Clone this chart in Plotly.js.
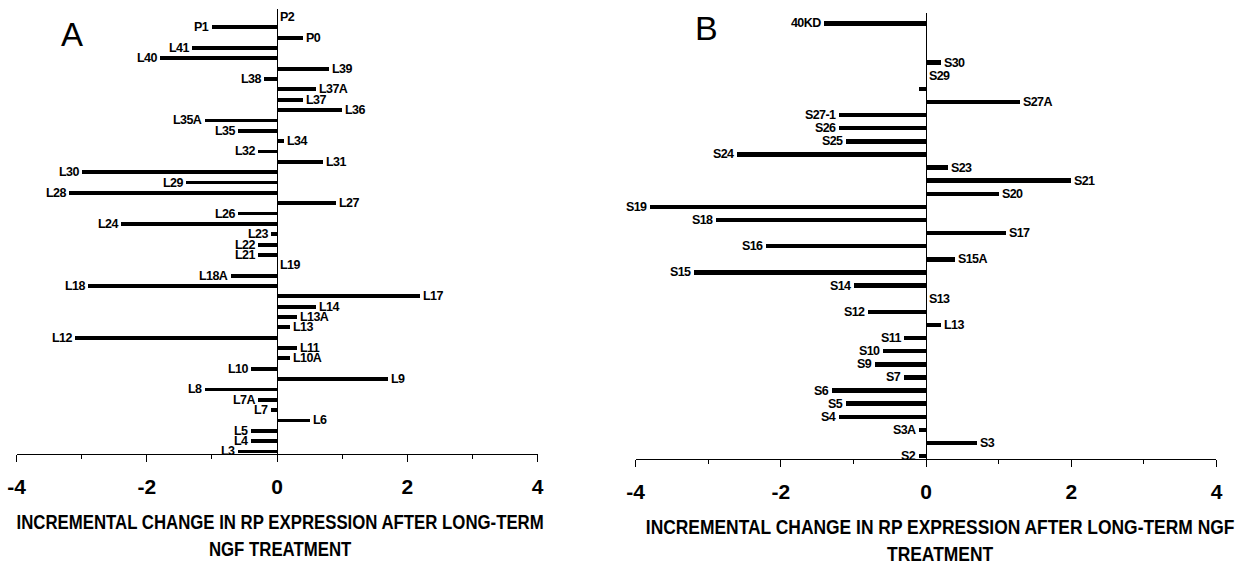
<!DOCTYPE html>
<html>
<head>
<meta charset="utf-8">
<script src="https://cdn.plot.ly/plotly-3.0.1.min.js"></script>
<style>
  html, body { margin: 0; padding: 0; background: #fff; }
  #chart { width: 1241px; height: 565px; }
  text.annotation-text { letter-spacing: -0.6px; }
</style>
</head>
<body>
<div id="chart"></div>
<script>
// Panel A: ribosomal proteins of the large subunit (top to bottom)
const catsA = ["P2","P1","P0","L41","L40","L39","L38","L37A","L37","L36","L35A","L35","L34","L32","L31","L30","L29","L28","L27","L26","L24","L23","L22","L21","L19","L18A","L18","L17","L14","L13A","L13","L12","L11","L10A","L10","L9","L8","L7A","L7","L6","L5","L4","L3"];
const valsA = [0,-1.0,0.4,-1.3,-1.8,0.8,-0.2,0.6,0.4,1.0,-1.1,-0.6,0.1,-0.3,0.7,-3.0,-1.4,-3.2,0.9,-0.6,-2.4,-0.1,-0.3,-0.3,0,-0.7,-2.9,2.2,0.6,0.3,0.2,-3.1,0.3,0.2,-0.4,1.7,-1.1,-0.3,-0.1,0.5,-0.4,-0.4,-0.6];

// Panel B: small subunit (top to bottom); "" = row without a label
const catsB = ["40KD","","","S30","S29","","S27A","S27-1","S26","S25","S24","S23","S21","S20","S19","S18","S17","S16","S15A","S15","S14","S13","S12","L13","S11","S10","S9","S7","S6","S5","S4","S3A","S3","S2"];
const valsB = [-1.4,null,null,0.2,0,-0.1,1.3,-1.2,-1.2,-1.1,-2.6,0.3,2.0,1.0,-3.8,-2.9,1.1,-2.2,0.4,-3.2,-1.0,0,-0.8,0.2,-0.3,-0.6,-0.7,-0.3,-1.3,-1.1,-1.2,-0.1,0.7,-0.1];

const xTicks = [-4,-2,0,2,4];
const titleA = "INCREMENTAL CHANGE IN RP EXPRESSION AFTER LONG-TERM<br>NGF TREATMENT";
const titleB = "INCREMENTAL CHANGE IN RP EXPRESSION AFTER LONG-TERM NGF<br>TREATMENT";
const panelA = "A", panelB = "B";

const FAM = "'Liberation Sans', Arial, sans-serif";
const labelFont = {family: FAM, size: 12.5, color: "#000", weight: 700};

const idx = arr => arr.map((_, i) => i);

const traces = [
  {type: "bar", orientation: "h", x: valsA, y: idx(catsA), xaxis: "x", yaxis: "y",
   width: 0.37, marker: {color: "#000", line: {width: 0}}, hoverinfo: "x+text", text: catsA, textposition: "none"},
  {type: "bar", orientation: "h", x: valsB, y: idx(catsB), xaxis: "x2", yaxis: "y2",
   width: 0.34, marker: {color: "#000", line: {width: 0}}, hoverinfo: "x+text", text: catsB, textposition: "none"}
];

function labelAnns(cats, vals, xref, yref) {
  const out = [];
  cats.forEach((c, i) => {
    if (!c) return;
    const v = vals[i] || 0;
    const neg = v < 0;
    out.push({x: v, y: i, xref: xref, yref: yref, text: c, showarrow: false,
      xanchor: neg ? "right" : "left", yanchor: "middle", xshift: neg ? -1 : 1,
      font: labelFont});
  });
  return out;
}

function xAxis(domain, anchor, title) {
  return {
    domain: domain, anchor: anchor, range: [-4, 4], tickvals: xTicks, ticktext: xTicks.map(String),
    showgrid: false, zeroline: true, zerolinecolor: "#000", zerolinewidth: 1,
    showline: true, linecolor: "#000", linewidth: 1,
    ticks: "outside", ticklen: 7, tickwidth: 1, tickcolor: "#000",
    minor: {dtick: 1, ticks: "outside", ticklen: 4, tickwidth: 1, tickcolor: "#000", showgrid: false},
    tickfont: {family: FAM, size: 21, color: "#000", weight: 700},
    ticklabelstandoff: 6,
    title: {text: title, font: {family: FAM, size: 21, color: "#000", weight: 700}, standoff: 17},
    fixedrange: true
  };
}
function yAxis(domain, anchor, n, top, bottomPad) {
  return {domain: domain, anchor: anchor, range: [n - 1 + bottomPad, top], visible: false,
    showgrid: false, zeroline: false, fixedrange: true};
}

const layout = {
  width: 1241, height: 565,
  margin: {l: 0, r: 0, t: 0, b: 0},
  paper_bgcolor: "#fff", plot_bgcolor: "rgba(0,0,0,0)",
  showlegend: false, bargap: 0,
  xaxis: xAxis([0.01330, 0.43328], "y", titleA),
  yaxis: yAxis([0.19558, 0.98319], "x", catsA.length, -0.725, 0.29),
  xaxis2: xAxis([0.51225, 0.98025], "y2", titleB),
  yaxis2: yAxis([0.18673, 0.97699], "x2", catsB.length, -0.785, 0.26),
  annotations: labelAnns(catsA, valsA, "x", "y")
    .concat(labelAnns(catsB, valsB, "x2", "y2"))
    .concat([
      {text: panelA, xref: "paper", yref: "paper", x: 72/1241, y: 1 - 34/565, showarrow: false,
       xanchor: "center", yanchor: "middle", font: {family: FAM, size: 33, color: "#000"}},
      {text: panelB, xref: "paper", yref: "paper", x: 706/1241, y: 1 - 28/565, showarrow: false,
       xanchor: "center", yanchor: "middle", font: {family: FAM, size: 34, color: "#000"}}
    ])
};

// condense the axis titles horizontally (the original uses a narrow face)
function condense(gd, sel, s, dx) {
  const el = gd.querySelector(sel);
  if (!el) return;
  const cx = parseFloat(el.getAttribute("x")) || 0;
  const prev = el.getAttribute("transform") || "";
  el.setAttribute("transform", prev + " translate(" + (cx * (1 - s) + dx) + ",0) scale(" + s + ",1)");
}

Plotly.newPlot("chart", traces, layout, {displayModeBar: false, staticPlot: true}).then(gd => {
  condense(gd, "text.xtitle", 0.8, 3);
  condense(gd, "text.x2title", 0.83, 14);
});
</script>
</body>
</html>
